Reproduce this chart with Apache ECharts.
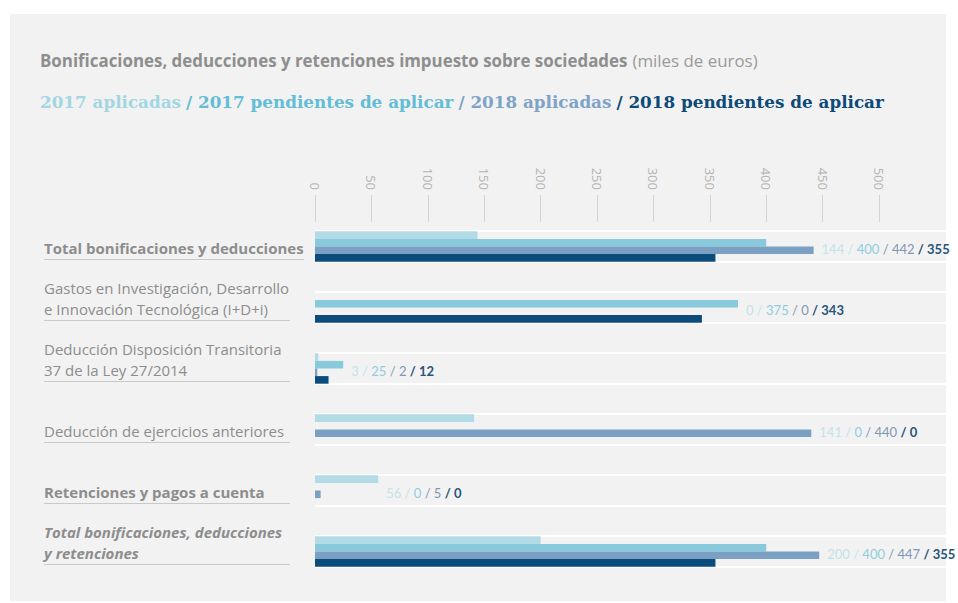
<!DOCTYPE html>
<html>
<head>
<meta charset="utf-8">
<script src="https://cdn.jsdelivr.net/npm/echarts@6/dist/echarts.min.js"></script>
<style>
html,body{margin:0;padding:0;background:#ffffff;}
#chart{width:958px;height:603px;}
</style>
</head>
<body>
<div id="chart"></div>
<script>
// ---- data ----
var categories = [
  'Total bonificaciones y deducciones',
  'Gastos en Investigación, Desarrollo\ne Innovación Tecnológica (I+D+i)',
  'Deducción Disposición Transitoria\n37 de la Ley 27/2014',
  'Deducción de ejercicios anteriores',
  'Retenciones y pagos a cuenta',
  'Total bonificaciones, deducciones\ny retenciones'
];
var aplicadas2017   = [144, 0, 3, 141, 56, 200];
var pendientes2017  = [400, 375, 25, 0, 0, 400];
var aplicadas2018   = [442, 0, 2, 440, 5, 447];
var pendientes2018  = [355, 343, 12, 0, 0, 355];
var seriesNames = ['2017 aplicadas', '2017 pendientes de aplicar', '2018 aplicadas', '2018 pendientes de aplicar'];
var labelStyles = ['bold', 'normal', 'normal', 'normal', 'bold', 'bolditalic'];
var axisMin = 0, axisMax = 500, axisStep = 50;

// ---- styles ----
var colors = ['#b2dbe5', '#88cadb', '#7aa0c3', '#0c4c7c'];
var sans = '"Open Sans", Lato, sans-serif';
var lato = 'Lato, "Open Sans", sans-serif';
var serif = '"DejaVu Serif", serif';

var chart = echarts.init(document.getElementById('chart'), null, {renderer: 'svg'});

var allSeries = [aplicadas2017, pendientes2017, aplicadas2018, pendientes2018];
var rowData = categories.map(function (c, i) {
  return [i, Math.max(aplicadas2017[i], pendientes2017[i], aplicadas2018[i], pendientes2018[i])];
});

function renderRow(params, api) {
  var idx = api.value(0);
  var maxV = api.value(1);
  var p0 = api.coord([0, idx]);
  var y = p0[1];
  var x0 = p0[0];
  var xEnd = api.coord([maxV, idx])[0];
  var half = 15.5;
  var st = labelStyles[idx];
  var children = [];
  children.push({type: 'line', shape: {x1: x0, y1: y - half, x2: 948, y2: y - half}, style: {stroke: '#ffffff', lineWidth: 2}});
  children.push({type: 'line', shape: {x1: x0, y1: y + half, x2: 948, y2: y + half}, style: {stroke: '#ffffff', lineWidth: 2}});
  children.push({type: 'line', shape: {x1: 44, y1: y + 13, x2: idx === 0 ? 304 : 290, y2: y + 13}, style: {stroke: '#c9c9c9', lineWidth: 1}});
  children.push({
    type: 'text',
    style: {
      text: categories[idx], x: 44, y: y + 12,
      align: 'left', verticalAlign: 'bottom', lineHeight: 21,
      fontFamily: sans, fontSize: 15,
      fontWeight: (st === 'bold' || st === 'bolditalic') ? 'bold' : 'normal',
      fontStyle: st === 'bolditalic' ? 'italic' : 'normal',
      fill: '#8d8d8d'
    }
  });
  var txt = '{a|' + aplicadas2017[idx] + ' /} {b|' + pendientes2017[idx] + '}{c| / ' + aplicadas2018[idx] + '} {d|/ ' + pendientes2018[idx] + '}';
  children.push({
    type: 'text',
    style: {
      text: txt, x: xEnd + 8, y: y + 2, align: 'left', verticalAlign: 'middle',
      fontFamily: lato, fontSize: 13,
      rich: {
        a: {fill: '#c3e2ea', fontFamily: lato, fontSize: 13},
        b: {fill: '#8fcde0', fontFamily: lato, fontSize: 13},
        c: {fill: '#7f98b2', fontFamily: lato, fontSize: 13},
        d: {fill: '#28557a', fontFamily: lato, fontSize: 13, fontWeight: 'bold'}
      }
    }
  });
  return {type: 'group', children: children};
}

var series = allSeries.map(function (vals, k) {
  return {
    name: seriesNames[k], type: 'bar', data: vals,
    barWidth: 7.6, barGap: '0%', z: 3, silent: true,
    itemStyle: {color: colors[k]}
  };
});
series.push({
  type: 'custom', data: rowData, renderItem: renderRow, z: 1, silent: true,
  encode: {x: 1, y: 0}
});

chart.setOption({
  animation: false,
  backgroundColor: 'transparent',
  graphic: [{type: 'rect', z: -100, shape: {x: 10, y: 14, width: 936, height: 587}, style: {fill: '#f2f2f2'}}],
  title: [
    {
      left: 40, top: 51, padding: 0,
      text: '{b|Bonificaciones, deducciones y retenciones impuesto sobre sociedades} {n|(miles de euros)}',
      textStyle: {
        rich: {
          b: {fontFamily: sans, fontSize: 16.9, fontWeight: 'bold', color: '#8e8e8e'},
          n: {fontFamily: sans, fontSize: 16.9, fontWeight: 'normal', color: '#9a9a9a'}
        }
      }
    },
    {
      left: 40, top: 93, padding: 0,
      text: '{a|2017 aplicadas} {b|/ 2017 pendientes de aplicar} {c|/ 2018 aplicadas} {d|/ 2018 pendientes de aplicar}',
      textStyle: {
        rich: {
          a: {fontFamily: serif, fontSize: 16.8, color: '#a3d6e3'},
          b: {fontFamily: serif, fontSize: 16.8, fontWeight: 'bold', color: '#63bdd5'},
          c: {fontFamily: serif, fontSize: 16.8, color: '#7ea3c7'},
          d: {fontFamily: serif, fontSize: 16.8, fontWeight: 'bold', color: '#0d4a79'}
        }
      }
    }
  ],
  grid: {left: 315, right: 79, top: 216, bottom: 21, containLabel: false},
  xAxis: {
    type: 'value', position: 'top', min: axisMin, max: axisMax, interval: axisStep,
    offset: -6,
    axisLine: {show: false},
    axisTick: {show: true, length: 27, lineStyle: {color: '#d4d4d4', width: 1}},
    axisLabel: {rotate: 90, margin: 32, color: '#b3b3b3', fontFamily: sans, fontSize: 13},
    splitLine: {show: false}
  },
  yAxis: {
    type: 'category', data: categories, inverse: true,
    axisLine: {show: false}, axisTick: {show: false}, axisLabel: {show: false}, splitLine: {show: false}
  },
  series: series
});
</script>
</body>
</html>
